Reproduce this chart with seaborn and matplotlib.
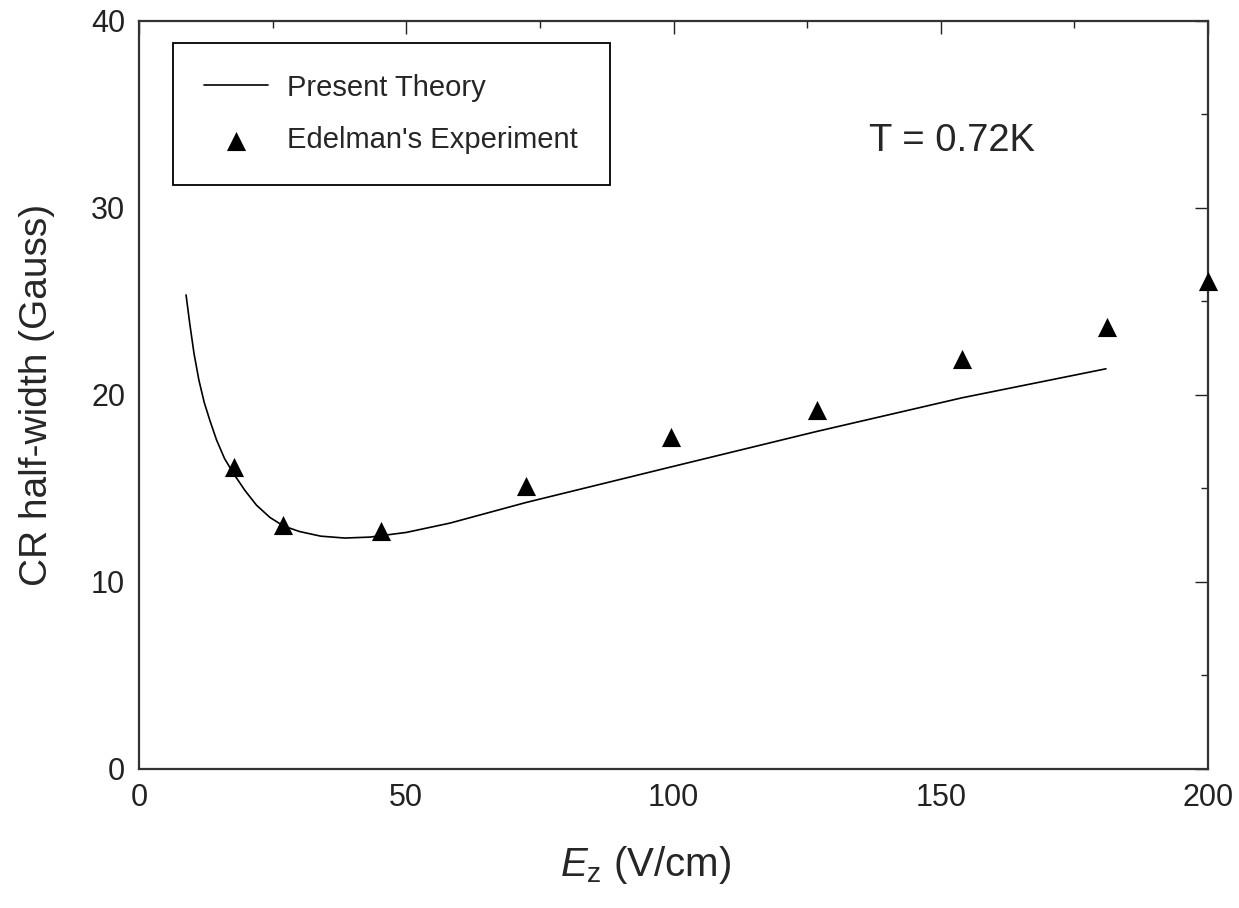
import numpy as np
import pandas as pd
import matplotlib
matplotlib.use("Agg")
import matplotlib.pyplot as plt
import seaborn as sns
from matplotlib.ticker import MultipleLocator, AutoMinorLocator

# === Data ===
theory_ez = [8.8, 9.5, 10.3, 11.2, 12.2, 13.3, 14.5, 16.0, 17.8, 19.8, 22.0,
             24.5, 27.0, 30.0, 34.0, 38.5, 43.2, 50.0, 58.2, 72.4, 99.5,
             126.8, 154.0, 180.9]
theory_hw = [25.35, 23.8, 22.2, 20.8, 19.6, 18.6, 17.6, 16.6, 15.75, 14.9, 14.1,
             13.45, 13.0, 12.7, 12.45, 12.35, 12.4, 12.65, 13.15, 14.25, 16.15,
             18.05, 19.85, 21.4]

exp_ez = [17.8, 26.9, 45.3, 72.4, 99.5, 126.8, 154.0, 181.1, 200.0]
exp_hw = [16.15, 13.05, 12.73, 15.13, 17.73, 19.2, 21.9, 23.66, 26.1]

theory = pd.DataFrame({"Ez": theory_ez, "hw": theory_hw})
experiment = pd.DataFrame({"Ez": exp_ez, "hw": exp_hw})

sns.set_style("white")
plt.rcParams["font.family"] = ["Liberation Sans", "DejaVu Sans"]
plt.rcParams["mathtext.fontset"] = "custom"
plt.rcParams["mathtext.it"] = "Liberation Sans:italic"
plt.rcParams["mathtext.rm"] = "Liberation Sans"

fig = plt.figure(figsize=(12.39, 9.08), dpi=100)
ax = fig.add_axes([0.1122, 0.1531, 0.8628, 0.8238])

sns.lineplot(data=theory, x="Ez", y="hw", ax=ax, color="black", lw=1.2,
             label="Present Theory", sort=False)
sns.scatterplot(data=experiment, x="Ez", y="hw", ax=ax, marker="^", s=190,
                color="black", edgecolor="black", linewidth=0,
                label="Edelman's Experiment", clip_on=False, zorder=5)

ax.set_xlim(0, 200)
ax.set_ylim(0, 40)
ax.xaxis.set_major_locator(MultipleLocator(50))
ax.yaxis.set_major_locator(MultipleLocator(10))
ax.xaxis.set_minor_locator(AutoMinorLocator(2))
ax.yaxis.set_minor_locator(AutoMinorLocator(2))
ax.tick_params(which="both", direction="in", top=True, right=True,
               colors="#222222", width=1)
ax.tick_params(which="major", length=9.5, labelsize=22, pad=10)
ax.tick_params(which="minor", length=5.2)
for sp in ax.spines.values():
    sp.set_linewidth(1.6)
    sp.set_color("#333333")

ax.set_xlabel(r"$E_{\mathrm{z}}$ (V/cm)", fontsize=29)
ax.xaxis.set_label_coords(0.474, -0.100)
ax.set_ylabel("CR half-width (Gauss)", fontsize=28, labelpad=26)

ax.text(0.683, 0.84, "T = 0.72K", transform=ax.transAxes, fontsize=27.5,
        ha="left", va="center")

leg = ax.legend(loc="upper left", bbox_to_anchor=(0.0318, 0.9706, 0.409, 0.0),
                mode="expand", borderaxespad=0, fancybox=False,
                edgecolor="black", framealpha=1, fontsize=21,
                handlelength=2.2, handletextpad=0.65, labelspacing=0.85,
                borderpad=1.05, markerscale=1.0)
leg.get_frame().set_linewidth(1.3)

fig.savefig("out.png", dpi=100)
